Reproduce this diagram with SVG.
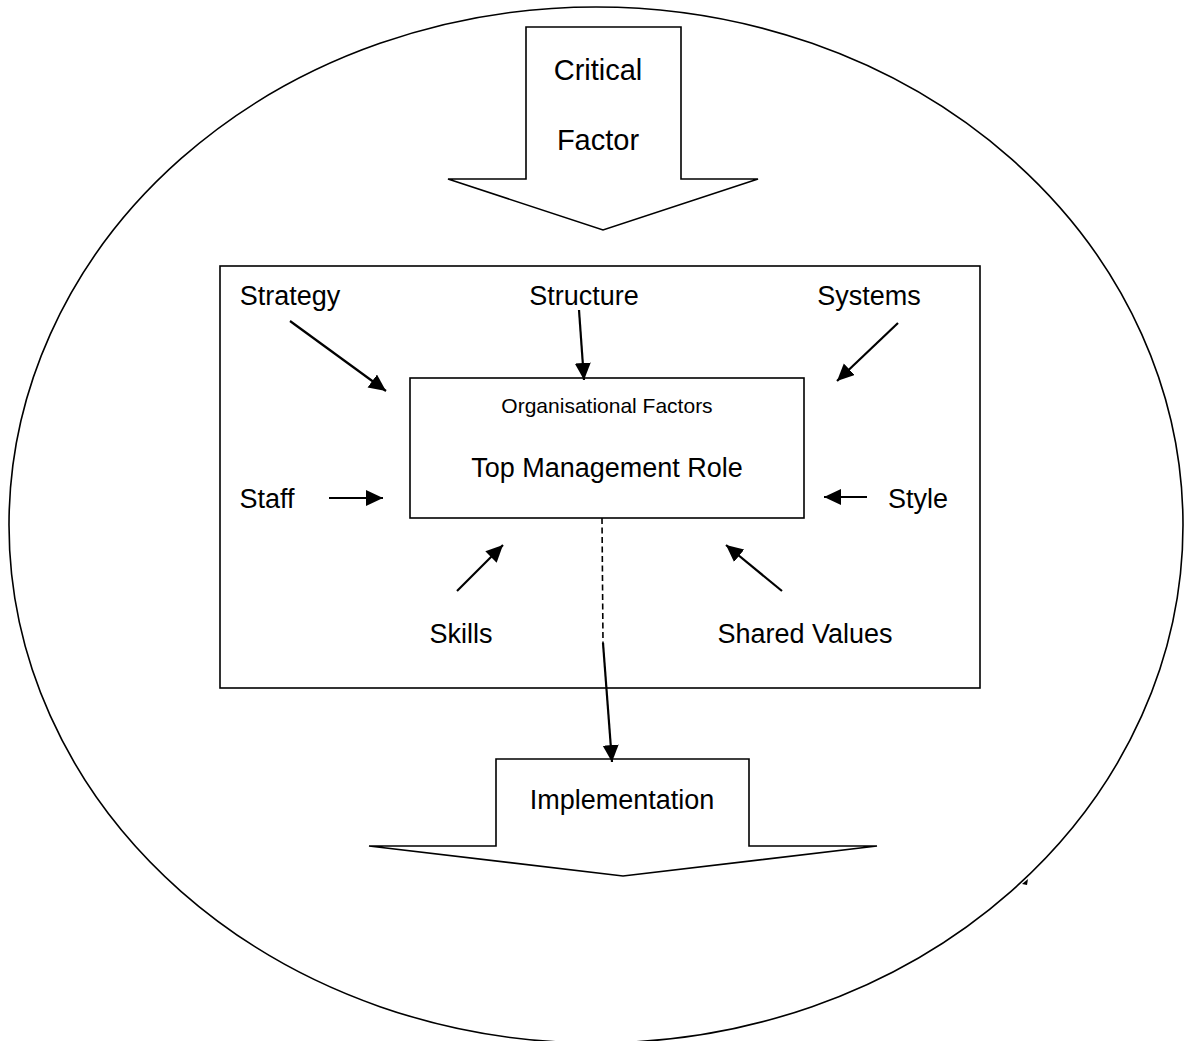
<svg xmlns="http://www.w3.org/2000/svg" width="1185" height="1041" viewBox="0 0 1185 1041">
<style>
.shape{fill:#fff;stroke:#000;stroke-width:1.6}
.outline{fill:none;stroke:#000;stroke-width:1.6}
.lbl{font-family:"Liberation Sans",Arial,sans-serif;font-size:27px;fill:#000;text-anchor:middle}
.big{font-size:29px}
.small{font-size:21px}
.conn{stroke:#000;stroke-width:2.2;fill:none;marker-end:url(#ah)}
.dash{stroke:#000;stroke-width:1.6;fill:none;stroke-dasharray:6 3.5}
</style>
<defs>
<marker id="ah" markerUnits="userSpaceOnUse" markerWidth="20" markerHeight="18" refX="17" refY="8" orient="auto">
<path d="M0,0 L17,8 L0,16 Z" fill="#000"/>
</marker>
</defs>
<rect width="1185" height="1041" fill="#fff"/>
<g id="boundary">
<ellipse cx="596" cy="525" rx="587" ry="518" class="outline"/>
<path d="M1022,884 L1028,879 L1027,885 Z" fill="#000"/>
</g>
<g id="critical-factor">
<polygon class="shape" points="526,27 681,27 681,179 758,179 603,230 448,179 526,179"/>
<text class="lbl big" x="598" y="80">Critical</text>
<text class="lbl big" x="598" y="150">Factor</text>
</g>
<g id="organisation">
<rect class="outline" x="220" y="266" width="760" height="422"/>
</g>
<g id="top-management">
<rect class="shape" x="410" y="378" width="394" height="140"/>
<text class="lbl small" x="607" y="413">Organisational Factors</text>
<text class="lbl" x="607" y="477">Top Management Role</text>
</g>
<g id="strategy"><text class="lbl" x="290" y="305">Strategy</text></g>
<g id="structure"><text class="lbl" x="584" y="305">Structure</text></g>
<g id="systems"><text class="lbl" x="869" y="305">Systems</text></g>
<g id="staff"><text class="lbl" x="267" y="508">Staff</text></g>
<g id="style"><text class="lbl" x="918" y="508">Style</text></g>
<g id="skills"><text class="lbl" x="461" y="643">Skills</text></g>
<g id="shared-values"><text class="lbl" x="805" y="643">Shared Values</text></g>
<g id="implementation">
<polygon class="shape" points="496,759 749,759 749,846 877,846 623,876 369,846 496,846"/>
<text class="lbl" x="622" y="809">Implementation</text>
</g>
<g id="connectors">
<line class="conn" x1="290" y1="321" x2="386" y2="391"/>
<line class="conn" x1="579" y1="310" x2="584" y2="380"/>
<line class="conn" x1="898" y1="323" x2="837" y2="381"/>
<line class="conn" x1="329" y1="498" x2="383" y2="498"/>
<line class="conn" x1="867" y1="497" x2="824" y2="497"/>
<line class="conn" x1="457" y1="591" x2="503" y2="545"/>
<line class="conn" x1="782" y1="591" x2="726" y2="545"/>
<line class="dash" x1="602" y1="518" x2="603" y2="643"/>
<line class="conn" x1="603" y1="643" x2="612" y2="762"/>
</g>
</svg>
